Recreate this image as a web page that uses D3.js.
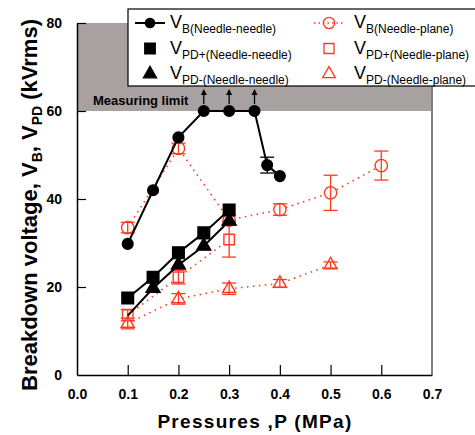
<!DOCTYPE html>
<html><head><meta charset="utf-8">
<script src="https://cdn.jsdelivr.net/npm/d3@7"></script>
<style>body{margin:0;background:#fff}svg{display:block}text{font-family:"Liberation Sans",Arial,sans-serif}</style>
</head><body><svg id="c" width="475" height="435"></svg>
<script>
// Data
const vbNN_P   = [0.1, 0.15, 0.2, 0.25, 0.3, 0.35, 0.375, 0.4];
const vbNN_V   = [29.8, 42, 54, 60, 60, 60, 47.7, 45.2];
const vbNN_E   = [0, 0, 0, 0, 0, 0, 1.8, 0];
const vpdPosNN_P = [0.1, 0.15, 0.2, 0.25, 0.3];
const vpdPosNN_V = [17.5, 22.2, 27.8, 32.3, 37.5];
const vpdNegNN_P = [0.1, 0.15, 0.2, 0.25, 0.3];
const vpdNegNN_V = [13.5, 19.7, 25, 29.3, 35];
const vpdNegNN_shown = [false, true, true, true, true];
const vbNP_P   = [0.1, 0.2, 0.3, 0.4, 0.5, 0.6];
const vbNP_V   = [33.5, 51.5, 35.2, 37.6, 41.4, 47.6];
const vbNP_E   = [1.2, 1.2, 1.2, 1.3, 4.0, 3.3];
const vpdPosNP_P = [0.1, 0.2, 0.3];
const vpdPosNP_V = [13.6, 22.2, 30.8];
const vpdPosNP_E = [1.3, 1.5, 4.0];
const vpdNegNP_P = [0.1, 0.2, 0.3, 0.4, 0.5];
const vpdNegNP_V = [11.7, 17.3, 19.6, 20.8, 25];
const vpdNegNP_E = [1.2, 1.2, 1.3, 0.9, 0.7];
const limitP = [0.25, 0.3, 0.35];
const xTicks = [0, 0.1, 0.2, 0.3, 0.4, 0.5, 0.6, 0.7];
const yTicks = [0, 20, 40, 60, 80];
const limitRange = [60, 80];

const RED = "#ff3a1e";
const svg = d3.select("#c");
const x = d3.scaleLinear().domain([0, 0.7]).range([77, 432]);
const y = d3.scaleLinear().domain([0, 80]).range([375, 23]);

// measuring-limit band
svg.append("rect").attr("x", x(0)).attr("y", y(limitRange[1]))
  .attr("width", x(0.7) - x(0)).attr("height", y(limitRange[0]) - y(limitRange[1]))
  .attr("fill", "#a8a1a1");
svg.append("text").attr("x", 93).attr("y", y(60) - 6).attr("font-size", 13)
  .attr("font-weight", "bold").text("Measuring limit");

// right frame line
svg.append("line").attr("x1", x(0.7)).attr("x2", x(0.7)).attr("y1", y(80)).attr("y2", y(0))
  .attr("stroke", "#808080").attr("stroke-width", 2);

// axes
const xAxis = d3.axisBottom(x).tickValues(xTicks).tickSizeInner(-10).tickSizeOuter(0).tickPadding(14)
  .tickFormat(d3.format(".1f"));
const gx = svg.append("g").attr("transform", `translate(0,${y(0)})`).call(xAxis);
const yAxis = d3.axisLeft(y).tickValues(yTicks).tickSizeInner(-9).tickSizeOuter(0).tickPadding(15);
const gy = svg.append("g").attr("transform", `translate(${x(0)},0)`).call(yAxis);
[gx, gy].forEach(g => {
  g.select(".domain").attr("stroke", "#000").attr("stroke-width", 1.5);
  g.selectAll(".tick line").attr("stroke", "#000").attr("stroke-width", 1.2);
  g.selectAll(".tick text").attr("font-size", 14).attr("font-weight", "bold").attr("fill", "#000");
});
gy.selectAll(".tick").filter(d => d === 0).select("line").remove();
gx.selectAll(".tick").filter(d => d === 0 || d === 0.7).select("line").remove();

// axis titles
svg.append("text").attr("x", 255).attr("y", 428).attr("text-anchor", "middle")
  .attr("font-size", 19).attr("font-weight", "bold").attr("letter-spacing", 1.3).text("Pressures ,P (MPa)");
const yt = svg.append("text").attr("transform", "translate(37,205) rotate(-90)")
  .attr("text-anchor", "middle").attr("font-size", 22).attr("font-weight", "bold");
yt.append("tspan").text("Breakdown voltage,  V");
yt.append("tspan").attr("font-size", 14).attr("dy", 5).text("B");
yt.append("tspan").attr("dy", -5).text(", V");
yt.append("tspan").attr("font-size", 14).attr("dy", 5).text("PD");
yt.append("tspan").attr("dy", -5).text(" (kVrms)");

const zip = (P, V, E) => P.map((p, i) => ({p, v: V[i], e: E ? E[i] : 0}));
const line = d3.line().x(d => x(d.p)).y(d => y(d.v));

function errBars(data, color, w) {
  const g = svg.append("g").attr("stroke", color).attr("stroke-width", 1.3).attr("fill", "none");
  data.filter(d => d.e > 0).forEach(d => {
    g.append("line").attr("x1", x(d.p)).attr("x2", x(d.p)).attr("y1", y(d.v - d.e)).attr("y2", y(d.v + d.e));
    [d.v - d.e, d.v + d.e].forEach(v => g.append("line").attr("x1", x(d.p) - w).attr("x2", x(d.p) + w)
      .attr("y1", y(v)).attr("y2", y(v)));
  });
}
function markers(data, type, size, fill, stroke) {
  svg.append("g").selectAll("path").data(data).join("path")
    .attr("transform", d => `translate(${x(d.p)},${y(d.v)})`)
    .attr("d", d3.symbol().type(type).size(size))
    .attr("fill", fill).attr("stroke", stroke).attr("stroke-width", 1.4);
}

const sNN = zip(vbNN_P, vbNN_V, vbNN_E);
const sPosNN = zip(vpdPosNN_P, vpdPosNN_V);
const sNegNN = zip(vpdNegNN_P, vpdNegNN_V);
const sNP = zip(vbNP_P, vbNP_V, vbNP_E);
const sPosNP = zip(vpdPosNP_P, vpdPosNP_V, vpdPosNP_E);
const sNegNP = zip(vpdNegNP_P, vpdNegNP_V, vpdNegNP_E);

// red dotted series
[sNP, sPosNP, sNegNP].forEach(s => svg.append("path").attr("d", line(s)).attr("fill", "none")
  .attr("stroke", RED).attr("stroke-width", 1.6).attr("stroke-dasharray", "1.5,4.5"));
markers(sNP, d3.symbolCircle, 120, "#fff", RED);
markers(sPosNP, d3.symbolSquare, 110, "#fff", RED);
markers(sNegNP, d3.symbolTriangle, 75, "#fff", RED);
errBars(sNP, RED, 7); errBars(sPosNP, RED, 7); errBars(sNegNP, RED, 7);

// black series
[sNN, sPosNN, sNegNN].forEach(s => svg.append("path").attr("d", line(s)).attr("fill", "none")
  .attr("stroke", "#000").attr("stroke-width", 2));
errBars(sNN, "#000", 7);
markers(sNegNN.filter((d, i) => vpdNegNN_shown[i]), d3.symbolTriangle, 85, "#000", "#000");
markers(sPosNN, d3.symbolSquare, 135, "#000", "#000");
markers(sNN, d3.symbolCircle, 90, "#000", "#000");

// arrows above measuring-limit points
const ag = svg.append("g");
limitP.forEach(p => {
  const cx = x(p), y0 = y(60) - 7;
  ag.append("line").attr("x1", cx).attr("x2", cx).attr("y1", y0).attr("y2", y0 - 10)
    .attr("stroke", "#000").attr("stroke-width", 1.3);
  ag.append("path").attr("d", `M${cx - 3},${y0 - 9} L${cx},${y0 - 15} L${cx + 3},${y0 - 9}Z`).attr("fill", "#000");
});

// legend
const lg = svg.append("g");
lg.append("rect").attr("x", 128).attr("y", 9).attr("width", 360).attr("height", 77)
  .attr("fill", "#fff").attr("stroke", "#000").attr("stroke-width", 1.2);
const legendItems = [
  {col: 0, row: 0, sub: "B(Needle-needle)", type: d3.symbolCircle, size: 70, fill: "#000", stroke: "#000", ln: "solid"},
  {col: 0, row: 1, sub: "PD+(Needle-needle)", type: d3.symbolSquare, size: 110, fill: "#000", stroke: "#000"},
  {col: 0, row: 2, sub: "PD-(Needle-needle)", type: d3.symbolTriangle, size: 75, fill: "#000", stroke: "#000"},
  {col: 1, row: 0, sub: "B(Needle-plane)", type: d3.symbolCircle, size: 100, fill: "none", stroke: RED, ln: "dot"},
  {col: 1, row: 1, sub: "PD+(Needle-plane)", type: d3.symbolSquare, size: 100, fill: "none", stroke: RED},
  {col: 1, row: 2, sub: "PD-(Needle-plane)", type: d3.symbolTriangle, size: 70, fill: "none", stroke: RED}
];
legendItems.forEach(it => {
  const sx = it.col === 0 ? 150 : 329, ly = 23 + it.row * 25.5;
  if (it.ln === "solid") lg.append("line").attr("x1", sx - 15).attr("x2", sx + 15).attr("y1", ly).attr("y2", ly)
    .attr("stroke", "#000").attr("stroke-width", 2);
  if (it.ln === "dot") lg.append("line").attr("x1", sx - 15).attr("x2", sx + 15).attr("y1", ly).attr("y2", ly)
    .attr("stroke", RED).attr("stroke-width", 1.3).attr("stroke-dasharray", "1.5,3");
  lg.append("path").attr("transform", `translate(${sx},${ly})`).attr("d", d3.symbol().type(it.type).size(it.size)())
    .attr("fill", it.fill).attr("stroke", it.stroke).attr("stroke-width", 1.3);
  const t = lg.append("text").attr("x", it.col === 0 ? 170 : 354).attr("y", ly + 5).attr("font-size", 18);
  t.append("tspan").text("V");
  t.append("tspan").attr("font-size", 12).attr("dy", 5).text(it.sub);
});
</script></body></html>
